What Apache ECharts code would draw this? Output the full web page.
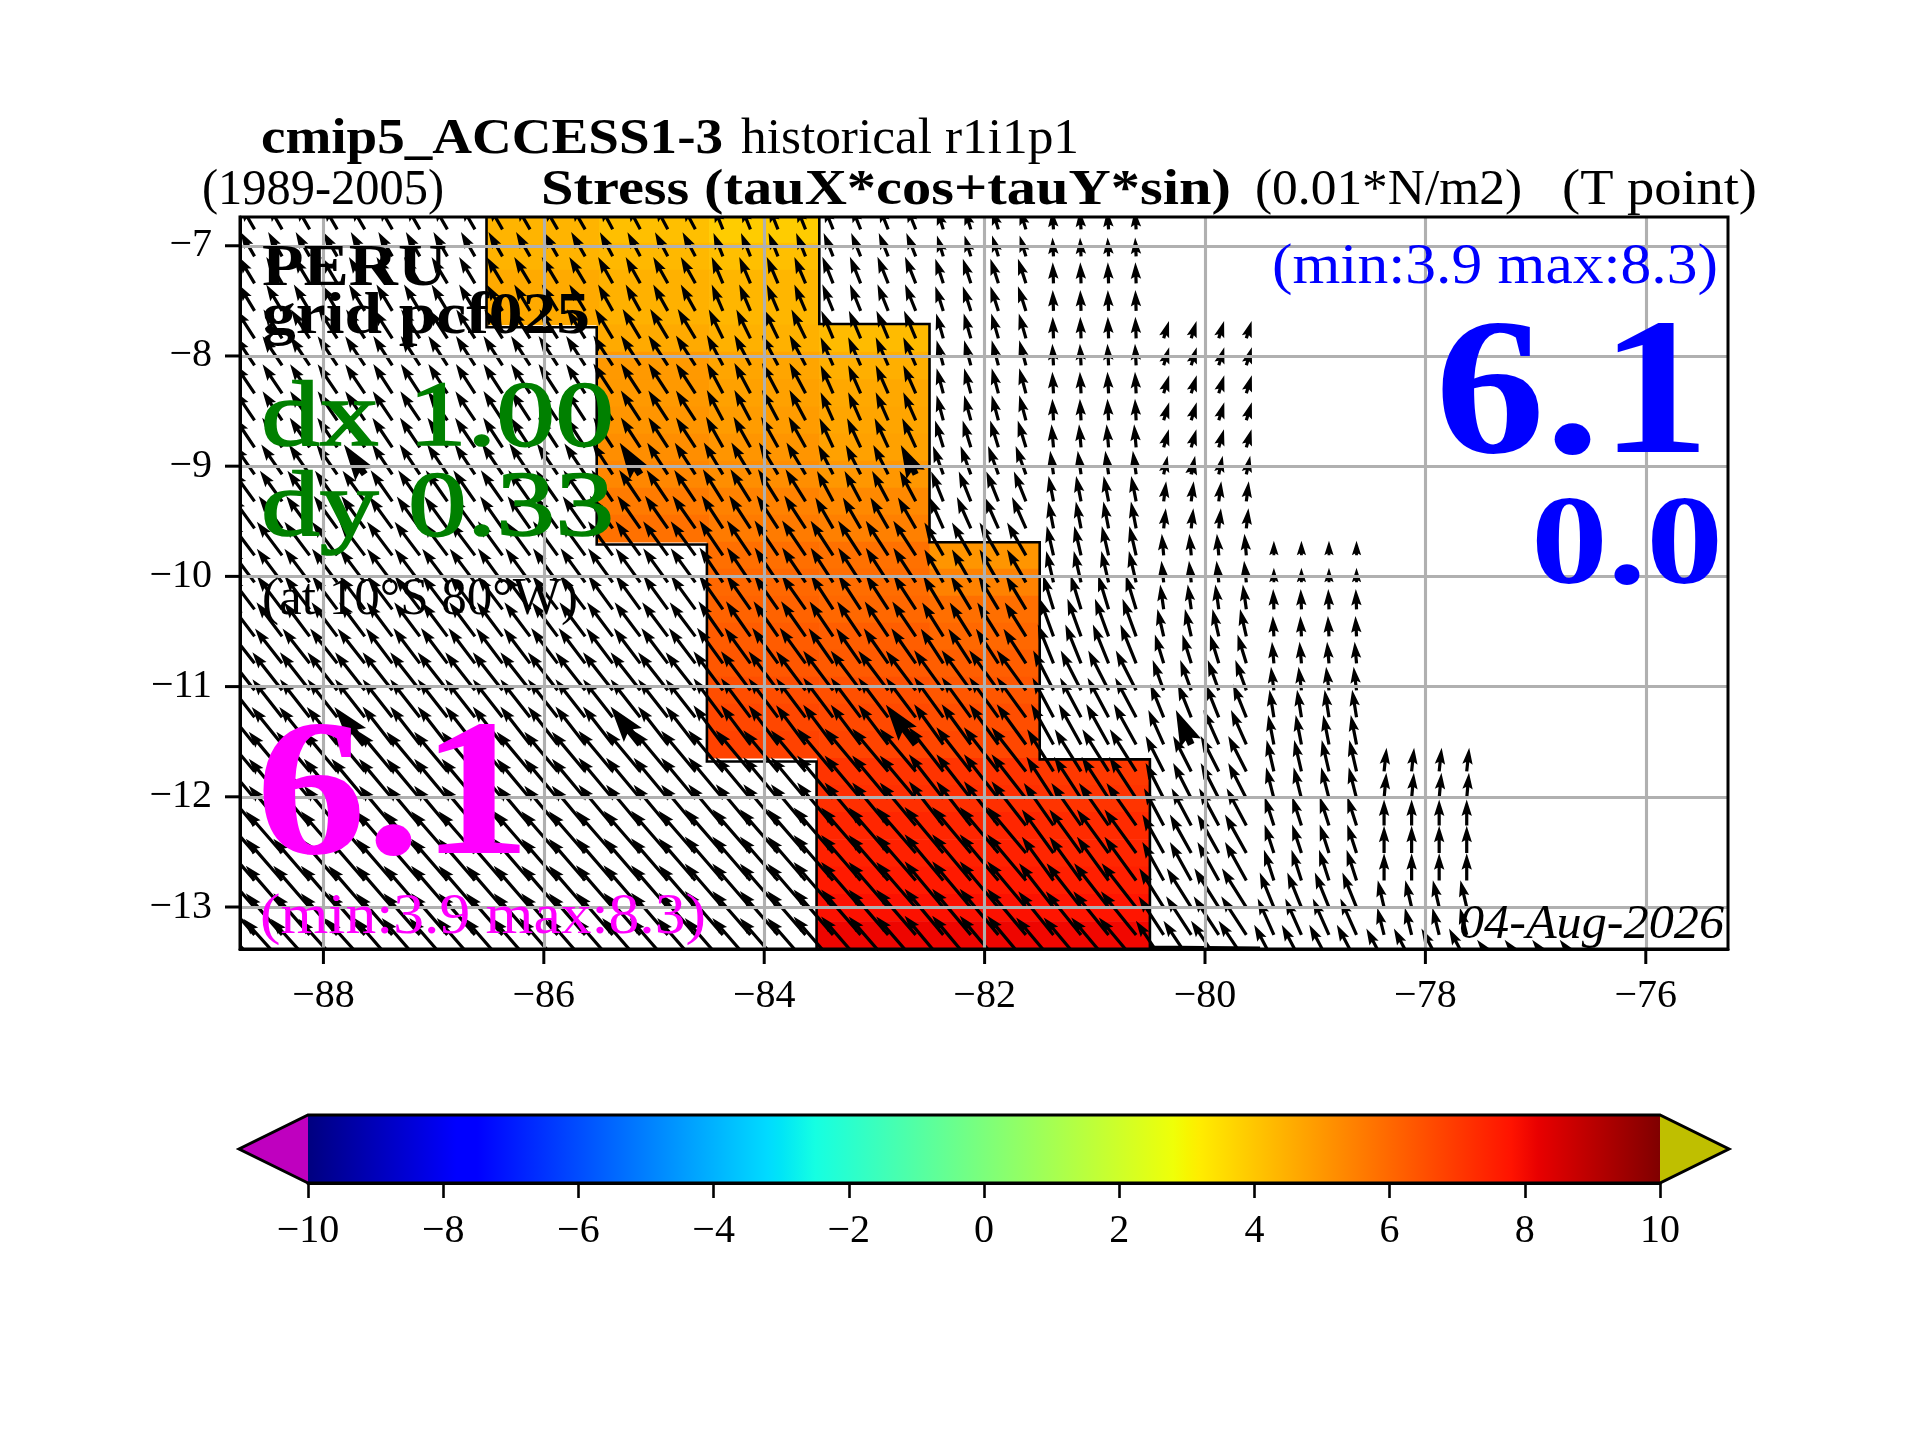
<!DOCTYPE html>
<html>
<head>
<meta charset="utf-8">
<style>html,body{margin:0;padding:0;background:#fff}#chart{width:1920px;height:1440px}</style>
<script src="https://cdn.jsdelivr.net/npm/echarts@6/dist/echarts.min.js"></script>
</head>
<body>
<div id="chart"></div>
<script>
const xTicks = [-88,-86,-84,-82,-80,-78,-76];
const yTicks = [-13,-12,-11,-10,-9,-8,-7];
const cbTicks = [-10,-8,-6,-4,-2,0,2,4,6,8,10];

// latitude of each row of the 0.25 degree Mercator grid, north to south
const rowLats = [-6.851,-7.096,-7.341,-7.591,-7.840,-8.085,-8.339,-8.584,-8.829,-9.074,-9.319,-9.564,-9.809,-10.054,
  -10.299,-10.544,-10.789,-11.034,-11.279,-11.525,-11.770,-12.015,-12.260,-12.510,-12.759,-13.004,-13.253,-13.498];
// longitude of every arrow column
const arrowLons = [-88.625,-88.375,-88.125,-87.875,-87.625,-87.375,-87.125,-86.875,-86.625,-86.375,-86.125,-85.875,-85.625,
  -85.375,-85.125,-84.875,-84.625,-84.375,-84.125,-83.875,-83.625,-83.375,-83.125,-82.875,-82.625,-82.375,-82.125,-81.875,-81.625,
  -81.375,-81.125,-80.875,-80.625,-80.375,-80.125,-79.875,-79.625,-79.375,-79.125,-78.875,-78.625,-78.375,-78.125,-77.875,-77.625,
  -77.375,-77.125,-76.875,-76.625];
// 1 degree source columns of the stress tables
const stressCols = [-89,-88,-87,-86,-85,-84,-83,-82,-81,-80,-79,-78,-77];
// stress direction, degrees west of north (one row per latitude; missing cells are land)
const stressDir = [
 [30,30,30,30,28,22,22,17,4],
 [30,30,30,30,28,22,22,17,3],
 [31,31,31,31,29,23,22,18,2],
 [31,31,31,31,29,23,22,18,2],
 [33,33,33,32,31,26,23,16,2,-17],
 [34,34,33,33,33,28,24,15,3,-17],
 [34,34,33,33,33,28,24,15,3,-17],
 [34,34,34,33,33,28,24,15,3,-17],
 [34,34,34,33,33,29,25,17,5,-16],
 [35,35,34,34,33,31,27,20,8,-12],
 [36,36,35,35,34,32,28,22,11,-7],
 [36,36,36,35,35,33,30,24,11,-6],
 [37,37,37,36,36,34,33,30,13,5,0],
 [37,37,37,36,36,34,33,30,13,6,0],
 [37,37,37,37,36,35,33,31,17,8,2],
 [37,37,37,37,37,35,34,32,20,13,3],
 [38,38,37,37,37,36,35,33,22,17,5],
 [38,38,38,38,38,37,37,36,27,20,7],
 [38,38,38,38,38,37,37,36,28,22,9],
 [39,39,38,38,38,37,37,36,29,24,11],
 [40,40,40,40,40,40,40,38,32,27,13,-6],
 [40,40,40,40,40,40,40,38,33,27,14,-5],
 [40,40,40,40,40,40,40,38,35,28,18,0],
 [41,41,41,41,41,41,41,40,36,29,18,0],
 [41,41,41,41,41,41,41,40,36,29,18,0],
 [41,41,41,41,41,41,41,40,38,32,22,13],
 [41,41,41,41,41,41,41,40,39,33,24,14],
 [42,42,41,41,41,41,41,40,40,34,28,28,38]
];
// stress magnitude, 0.01 N/m2
const stressMag = [
 [4.0,4.0,4.0,4.0,3.9,3.6,3.6,3.1,2.7],
 [4.0,4.0,4.0,4.0,3.9,3.6,3.6,3.1,2.7],
 [4.4,4.4,4.4,4.4,4.3,4.1,4.1,3.7,3.0],
 [4.4,4.4,4.4,4.4,4.3,4.1,4.1,3.7,3.0],
 [4.9,4.9,4.9,4.9,4.9,4.6,4.3,3.7,3.1,2.6],
 [5.0,5.0,5.0,5.0,5.1,4.9,4.4,3.7,3.1,2.7],
 [5.0,5.0,5.0,5.0,5.1,4.9,4.4,3.7,3.1,2.7],
 [5.0,5.0,5.0,5.0,5.1,4.9,4.4,3.7,3.1,2.7],
 [5.1,5.1,5.1,5.1,5.1,5.0,4.6,4.0,3.3,2.7],
 [5.2,5.2,5.2,5.3,5.4,5.3,4.7,4.3,3.4,2.7],
 [5.4,5.4,5.4,5.4,5.4,5.4,4.9,4.6,3.7,2.9],
 [5.7,5.7,5.6,5.6,5.7,5.6,5.1,4.9,3.9,2.9],
 [6.0,6.0,6.0,6.0,6.0,6.0,5.9,5.4,4.3,3.1,2.1],
 [6.0,6.0,6.0,6.0,6.0,6.0,5.9,5.4,4.6,3.1,2.1],
 [6.0,6.0,6.0,6.0,6.0,6.0,5.9,5.6,5.1,3.6,2.9],
 [6.1,6.1,6.1,6.1,6.1,6.1,6.0,5.7,5.7,4.0,2.9],
 [6.3,6.3,6.3,6.3,6.3,6.3,6.1,5.9,6.0,4.3,3.1],
 [6.9,6.9,6.9,6.9,6.9,7.0,7.1,7.1,6.4,4.6,3.4],
 [6.9,6.9,6.9,6.9,6.9,7.0,7.1,7.1,6.4,5.1,4.0],
 [6.9,6.9,6.9,6.9,6.9,7.0,7.1,7.1,6.6,5.4,4.3],
 [7.4,7.4,7.4,7.4,7.6,7.7,8.0,8.0,7.1,5.7,4.6,3.4],
 [7.4,7.4,7.4,7.4,7.6,7.7,8.0,8.0,7.1,5.7,4.6,3.7],
 [7.4,7.4,7.4,7.4,7.6,7.7,8.0,8.0,7.4,6.0,4.3,3.7],
 [7.9,7.9,7.9,7.9,8.0,8.3,8.6,8.6,7.7,6.3,4.3,3.9],
 [7.9,7.9,7.9,7.9,8.0,8.3,8.6,8.6,7.7,6.3,4.6,3.9],
 [7.9,7.9,7.9,7.9,8.0,8.3,8.6,8.6,8.0,6.6,5.4,4.0],
 [7.9,7.9,7.9,7.9,8.0,8.3,8.6,8.6,8.0,6.6,5.7,4.0],
 [8.3,8.3,8.3,8.3,8.3,8.3,8.6,8.6,8.3,7.1,6.0,5.4,4.0]
];
// arrows drawn heavier: [row index, longitude]
const heavyArrows = [[9,-87.625],[9,-85.125],[9,-82.625],[9,-80.125],[19,-87.625],[19,-85.125],[19,-82.625],[19,-80.125]];

// along-coast stress shaded inside the coastal band
const shadeCols = [-86,-85,-84,-83,-82,-81];
const shadeValues = [
 [4.38,4.15,3.88,null,null,null],
 [4.40,4.30,4.15,null,null,null],
 [4.60,4.45,4.35,null,null,null],
 [4.60,4.45,4.35,null,null,null],
 [null,4.60,4.45,4.24,null,null],
 [null,4.96,4.70,4.50,null,null],
 [null,4.96,4.80,4.65,null,null],
 [null,5.05,4.90,4.70,null,null],
 [null,5.20,5.05,4.80,null,null],
 [null,5.35,5.20,5.00,null,null],
 [null,5.60,5.45,5.30,null,null],
 [null,5.80,5.60,5.50,null,null],
 [null,null,5.85,5.80,5.05,null],
 [null,null,6.00,5.90,5.45,null],
 [null,null,6.10,6.00,5.85,null],
 [null,null,6.25,6.20,6.00,null],
 [null,null,6.35,6.30,6.20,null],
 [null,null,6.55,6.50,6.35,null],
 [null,null,6.70,6.65,6.55,null],
 [null,null,6.80,6.75,6.70,null],
 [null,null,null,7.10,7.10,7.00],
 [null,null,null,7.20,7.20,7.10],
 [null,null,null,7.40,7.40,7.30],
 [null,null,null,7.50,7.50,7.40],
 [null,null,null,7.65,7.65,7.55],
 [null,null,null,7.85,7.85,7.75],
 [null,null,null,8.10,8.10,8.05],
 [null,null,null,8.30,8.25,8.20]
];
// coastal band outline, [lon, lat]
const bandWest = [[-86.52,-6.74],[-86.52,-7.74],[-85.52,-7.74],[-85.52,-9.71],[-84.52,-9.71],[-84.52,-11.68],[-83.525,-11.68],[-83.525,-13.38]];
const bandEast = [[-83.5,-6.74],[-83.5,-7.71],[-82.5,-7.71],[-82.5,-9.69],[-81.5,-9.69],[-81.5,-11.66],[-80.5,-11.66],[-80.5,-13.36],[-79.5,-13.37]];

// [text, x, baseline, width, font size, weight, style, colour, stroke]
const texts = [
 ['cmip5_ACCESS1-3',261,153,462,50,'bold','normal','#000',0],
 ['historical r1i1p1',741,153,338,50,'normal','normal','#000',0],
 ['(1989-2005)',202,204,242,50,'normal','normal','#000',0],
 ['Stress (tauX*cos+tauY*sin)',541,204,690,50,'bold','normal','#000',0],
 ['(0.01*N/m2)',1255,204,267,50,'normal','normal','#000',0],
 ['(T point)',1562,204,195,50,'normal','normal','#000',0],
 ['PERU',262,285,185,60,'bold','normal','#000',0],
 ['grid pcf025',262,333,328,60,'bold','normal','#000',0],
 ['dx 1.00',261,445,353,94,'normal','normal','#008000',1.6],
 ['dy 0.33',261,535,353,94,'normal','normal','#008000',1.6],
 ['(at 10°S 80°W)',262,614,316,53,'normal','normal','#000',0],
 ['6.1',256,853,275,196,'bold','normal','#ff00ff',0],
 ['(min:3.9 max:8.3)',260,933,446,57,'normal','normal','#ff00ff',0],
 ['(min:3.9 max:8.3)',1272,283,446,57,'normal','normal','#0000ff',0],
 ['6.1',1435,452,275,196,'bold','normal','#0000ff',0],
 ['0.0',1531,583,192,128,'bold','normal','#0000ff',0],
 ['04-Aug-2026',1459,938,265,49,'normal','italic','#000',0]
];

const FONT = '"Liberation Serif", serif';
const jetR = [[0,0],[.35,0],[.66,1],[.89,1],[1,.5]];
const jetG = [[0,0],[.125,0],[.375,1],[.64,1],[.91,0],[1,0]];
const jetB = [[0,.5],[.11,1],[.34,1],[.65,0],[1,0]];
function seg(tab,t){for(let i=1;i<tab.length;i++){if(t<=tab[i][0]){const a=tab[i-1],b=tab[i];return a[1]+(b[1]-a[1])*(t-a[0])/(b[0]-a[0]);}}return tab[tab.length-1][1];}
function jetAt(t){return 'rgb('+[jetR,jetG,jetB].map(s=>Math.round(255*seg(s,t))).join(',')+')';}
function jet(v){return jetAt(Math.min(1,Math.max(0,(v+10)/20)));}
const jetStops = [...new Set([...jetR,...jetG,...jetB].map(p=>p[0]))].sort((a,b)=>a-b).map(t=>({offset:t,color:jetAt(t)}));

// cells: [lon, north edge, south edge, value, west edge is the band edge]
const cellData = [];
shadeValues.forEach((row,r)=>{
  const top = r===0 ? rowLats[0]+(rowLats[0]-rowLats[1])/2 : (rowLats[r-1]+rowLats[r])/2;
  const bot = r===rowLats.length-1 ? rowLats[r]-(rowLats[r-1]-rowLats[r])/2 : (rowLats[r]+rowLats[r+1])/2;
  row.forEach((v,c)=>{ if(v!==null) cellData.push([shadeCols[c],top,bot,v,(c===0||row[c-1]===null)?1:0]); });
});
// arrows
const arrowData = [];
rowLats.forEach((lat,r)=>{
  arrowLons.forEach(lon=>{
    const c = stressCols.indexOf(Math.round(lon));
    const m = stressMag[r][c];
    if(m===undefined||m===null) return;
    const heavy = heavyArrows.some(h=>h[0]===r&&h[1]===lon)?1:0;
    arrowData.push([lon,lat,stressDir[r][c],m,heavy]);
  });
});

const QUIVER = 7/110.2;  // degrees per unit of stress
function renderCell(params,api){
  const lon=api.value(0), a=api.coord([lon-.5-(api.value(4)?.022:0),api.value(1)]), b=api.coord([lon+.5,api.value(2)]);
  return {type:'rect',shape:{x:a[0],y:a[1],width:b[0]-a[0]+.6,height:b[1]-a[1]+.6},style:{fill:jet(api.value(3))}};
}
function renderArrow(params,api){
  const lon=api.value(0),lat=api.value(1),th=api.value(2)*Math.PI/180,m=api.value(3),k=api.value(4)?2.2:1;
  const t=api.coord([lon,lat]), p=api.coord([lon-m*Math.sin(th)*QUIVER,lat+m*Math.cos(th)*QUIVER]);
  const dx=p[0]-t[0],dy=p[1]-t[1],L=Math.hypot(dx,dy),ux=dx/L,uy=dy/L,nx=-uy,ny=ux;
  let hl=16.5*k,ha=14.5*k,hw=5.2*k,sw=1.6*k;
  if(L<hl){const f=L/hl;hl*=f;ha*=f;hw*=f;sw*=f;}
  const at=(s,n)=>[t[0]+ux*s+nx*n,t[1]+uy*s+ny*n];
  return {type:'polygon',shape:{points:[at(0,sw),at(L-ha,sw),at(L-hl,hw),at(L,0),at(L-hl,-hw),at(L-ha,-sw),at(0,-sw)]},style:{fill:'#000'}};
}
function renderBand(params,api){
  const line=(pts)=>({type:'polyline',shape:{points:pts.map(q=>api.coord(q))},style:{fill:null,stroke:'#000',lineWidth:2.6}});
  return {type:'group',children:[line(bandWest),line(bandEast)]};
}
// tick marks of the map frame, placed through the map axes
function renderFrameTicks(params,api){
  const TICK=15, xmin=-88.757, ymin=-13.381;
  const mark=(a,b)=>({type:'line',shape:{x1:a[0],y1:a[1],x2:b[0],y2:b[1]},style:{stroke:'#000',lineWidth:3}});
  const kids=[];
  xTicks.forEach(v=>{const p=api.coord([v,ymin]);kids.push(mark(p,[p[0],p[1]+TICK]));});
  yTicks.forEach(v=>{const p=api.coord([xmin,v]);kids.push(mark(p,[p[0]-TICK,p[1]]));});
  return {type:'group',children:kids};
}
function renderColorbar(params,api){
  const a=api.coord([-10,0]),b=api.coord([10,1]),c0=api.coord([-11.02,.5]),c1=api.coord([11.02,.5]);
  const lw=3;
  return {type:'group',children:[
    {type:'polygon',shape:{points:[[a[0],a[1]],c0,[a[0],b[1]]]},style:{fill:'#bf00bf'}},
    {type:'polygon',shape:{points:[[b[0],a[1]],c1,[b[0],b[1]]]},style:{fill:'#bfbf00'}},
    {type:'rect',shape:{x:a[0],y:b[1],width:b[0]-a[0],height:a[1]-b[1]},style:{fill:new echarts.graphic.LinearGradient(0,0,1,0,jetStops)}},
    {type:'polygon',shape:{points:[[a[0],a[1]],c0,[a[0],b[1]],[b[0],b[1]],c1,[b[0],a[1]]]},style:{fill:null,stroke:'#000',lineWidth:lw,lineJoin:'miter'}}
  ]};
}

const meas = document.createElement('canvas').getContext('2d');
const graphics = texts.map(t=>{
  const font = t[6]+' '+t[5]+' '+t[4]+'px '+FONT;
  meas.font = font;
  return {type:'text',x:t[1],y:t[2]-t[4]*0.26,scaleX:t[3]/meas.measureText(t[0]).width,z:20,silent:true,
    style:{text:t[0],x:0,y:0,font:font,fill:t[7],textAlign:'left',textVerticalAlign:'middle',
      stroke:t[8]?t[7]:null,lineWidth:t[8]}};
});
const minus = v => String(v).replace('-','\u2212');
const axisTxt = {fontFamily:FONT,fontSize:40,color:'#000'};
const blackLine = {show:true,onZero:false,lineStyle:{color:'#000',width:3}};
const chart = echarts.init(document.getElementById('chart'),null,{width:1920,height:1440});
chart.setOption({
  animation:false,backgroundColor:'#fff',
  grid:[
    {left:240,top:217,width:1488,height:732,show:true,borderColor:'#000',borderWidth:3,backgroundColor:'transparent',z:8},
    {left:308,top:1115,width:1352,height:68}
  ],
  xAxis:[
    {type:'value',gridIndex:0,position:'bottom',min:-88.757,max:-75.254,z:6,
     axisLine:blackLine,
     axisTick:{show:false,customValues:xTicks},
     axisLabel:{...axisTxt,margin:27,formatter:minus,customValues:xTicks},
     splitLine:{show:true,lineStyle:{color:'#b0b0b0',width:3.1}}},
    {type:'value',gridIndex:1,position:'bottom',min:-10,max:10,z:6,
     axisLine:blackLine,
     axisTick:{show:true,length:15,lineStyle:{color:'#000',width:2.6},customValues:cbTicks},
     axisLabel:{...axisTxt,margin:28,formatter:minus,customValues:cbTicks},
     splitLine:{show:false}}
  ],
  yAxis:[
    {type:'value',gridIndex:0,position:'left',min:-13.381,max:-6.739,z:6,
     axisLine:blackLine,
     axisTick:{show:false,customValues:yTicks},
     axisLabel:{...axisTxt,margin:28,formatter:minus,customValues:yTicks},
     splitLine:{show:true,lineStyle:{color:'#b0b0b0',width:3.1}}},
    {type:'value',gridIndex:1,min:0,max:1,show:false}
  ],
  series:[
    {type:'custom',name:'shade',xAxisIndex:0,yAxisIndex:0,clip:true,z:1,data:cellData,renderItem:renderCell,silent:true},
    {type:'custom',name:'band',xAxisIndex:0,yAxisIndex:0,clip:true,z:2,data:[[0]],renderItem:renderBand,silent:true},
    {type:'custom',name:'stress',xAxisIndex:0,yAxisIndex:0,clip:true,z:3,data:arrowData,renderItem:renderArrow,silent:true},
    {type:'custom',name:'frameTicks',xAxisIndex:0,yAxisIndex:0,z:7,data:[[0]],renderItem:renderFrameTicks,silent:true},
    {type:'custom',name:'colorbar',xAxisIndex:1,yAxisIndex:1,z:3,data:[[0]],renderItem:renderColorbar,silent:true}
  ],
  graphic:graphics
});
</script>
</body>
</html>
